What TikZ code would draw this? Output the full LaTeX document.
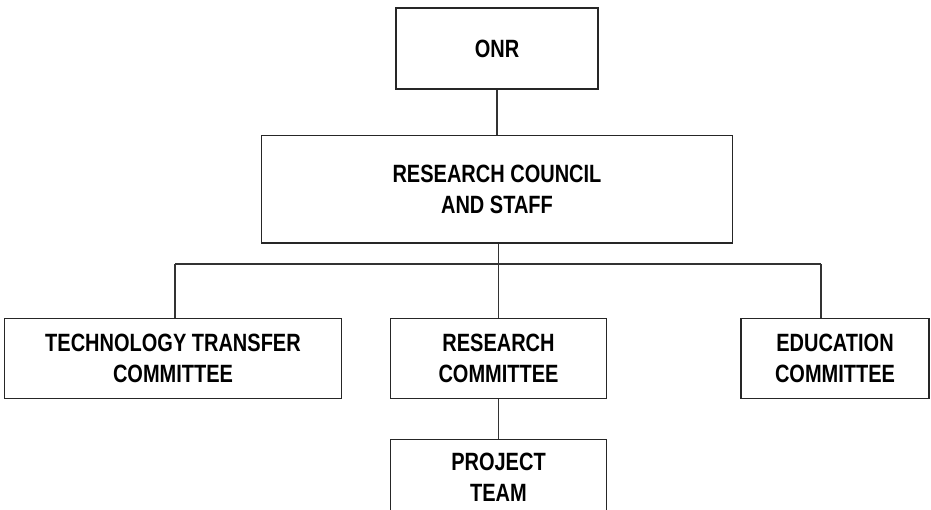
\documentclass[tikz,border=0pt]{standalone}
\usepackage{fontspec}
\newfontfamily\narrowfont[FakeStretch=0.8]{Liberation Sans}
\begin{document}
\begin{tikzpicture}[x=1pt,y=-1pt,
  box/.style={draw=black!85,line width=1.4pt,rectangle,inner sep=0pt,align=center,
    font=\narrowfont\bfseries\fontsize{25}{30.7}\selectfont},
  conn/.style={draw=black!80,line width=1.3pt}]
\useasboundingbox (0,0) rectangle (931,510);
\node[box,minimum width=202,minimum height=81] (onr) at (497,48.5) {ONR};
\node[box,minimum width=471.3,minimum height=107.7] (rc) at (497,189.2) {RESEARCH COUNCIL\\AND STAFF};
\node[box,minimum width=337.4,minimum height=80] (tech) at (173,358.3) {TECHNOLOGY TRANSFER\\COMMITTEE};
\node[box,minimum width=216,minimum height=80.4] (rcom) at (498.5,358.5) {RESEARCH\\COMMITTEE};
\node[box,minimum width=188,minimum height=80] (edu) at (835,358.3) {EDUCATION\\COMMITTEE};
\node[box,minimum width=216,minimum height=76] (proj) at (498.5,477.3) {PROJECT\\TEAM};
\coordinate (busL) at (175,264);
\coordinate (busR) at (821,264);
\draw[conn] (onr.south) -- (onr.south |- rc.north);
\draw[conn] (busL) -- (busR);
\draw[conn] (busL) -- (busL |- tech.north);
\draw[conn] (busR) -- (busR |- edu.north);
\draw[conn] (rc.south -| rcom.north) -- (rcom.north);
\draw[conn] (rcom.south) -- (proj.north);
\end{tikzpicture}
\end{document}
